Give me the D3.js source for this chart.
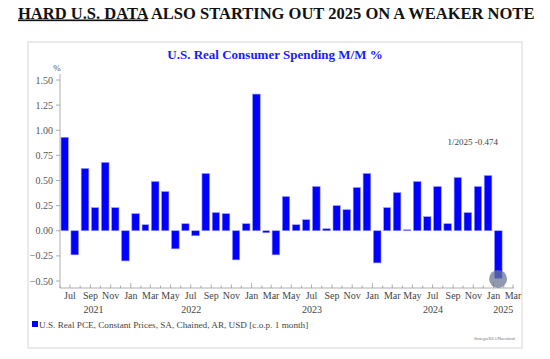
<!DOCTYPE html>
<html><head><meta charset="utf-8">
<script src="https://cdn.jsdelivr.net/npm/d3@7/dist/d3.min.js"></script>
<style>body{margin:0;background:#fff}svg{display:block}</style>
</head><body>
<script>
const months = ["2021-06","2021-07","2021-08","2021-09","2021-10","2021-11","2021-12",
"2022-01","2022-02","2022-03","2022-04","2022-05","2022-06","2022-07","2022-08","2022-09","2022-10","2022-11","2022-12",
"2023-01","2023-02","2023-03","2023-04","2023-05","2023-06","2023-07","2023-08","2023-09","2023-10","2023-11","2023-12",
"2024-01","2024-02","2024-03","2024-04","2024-05","2024-06","2024-07","2024-08","2024-09","2024-10","2024-11","2024-12",
"2025-01"];
const values = [0.93,-0.24,0.62,0.23,0.68,0.23,-0.30,
0.17,0.06,0.49,0.39,-0.18,0.07,-0.05,0.57,0.18,0.17,-0.29,0.07,
1.36,-0.02,-0.24,0.34,0.06,0.11,0.44,0.02,0.25,0.21,0.43,0.57,
-0.32,0.23,0.38,0.01,0.49,0.14,0.44,0.07,0.53,0.18,0.44,0.55,
-0.474];
const yTicks = [-0.5,-0.25,0,0.25,0.5,0.75,1.0,1.25,1.5];
const monthNames = ["Jan","Feb","Mar","Apr","May","Jun","Jul","Aug","Sep","Oct","Nov","Dec"];
const years = [2021,2022,2023,2024,2025];
const headline = ["HARD U.S. DATA", " ALSO STARTING OUT 2025 ON A WEAKER NOTE"];
const chartTitle = "U.S. Real Consumer Spending M/M %";
const legendLabel = "U.S. Real PCE, Constant Prices, SA, Chained, AR, USD [c.o.p. 1 month]";
const annotation = "1/2025 -0.474";
const sourceText = "Strategas/BEA/Macrobond";

const W=550,H=359;
const serif = "'Liberation Serif','Times New Roman',serif";
const svg = d3.select("body").append("svg").attr("width",W).attr("height",H);

const parse = d3.timeParse("%Y-%m");
const data = months.map((m,i)=>({d:parse(m), v:values[i]}));

const x = d3.scaleTime().domain([new Date(2021,5,1), new Date(2025,2,1)]).range([60,513]);
const y = d3.scaleLinear().domain([-0.5,1.5]).range([281,80]);

// headline, fitted to the reference width
const ht = svg.append("text").attr("x",18).attr("y",18.5)
  .attr("font-family",serif).attr("font-weight","bold").attr("font-size",18).attr("fill","#111");
ht.append("tspan").attr("text-decoration","underline").text(headline[0]);
ht.append("tspan").text(headline[1]);
const hw = ht.node().getComputedTextLength();
ht.attr("font-size",18*517/hw);

// frame
svg.append("rect").attr("x",28).attr("y",42).attr("width",494).attr("height",306)
  .attr("fill","#fff").attr("stroke","#e4e4e4").attr("stroke-width",1.5);

svg.append("text").attr("x",275).attr("y",58.5).attr("text-anchor","middle")
  .attr("font-family",serif).attr("font-weight","bold").attr("font-size",13).attr("fill","#1a1aff")
  .text(chartTitle);

svg.append("text").attr("x",57).attr("y",71).attr("text-anchor","middle")
  .attr("font-family",serif).attr("font-size",9).attr("fill","#555").text("%");

// y axis
const axisColor="#999";
svg.append("line").attr("x1",60).attr("x2",60).attr("y1",y(1.56)).attr("y2",288)
  .attr("stroke",axisColor).attr("stroke-width",0.8);
const yg = svg.append("g");
yTicks.forEach(t=>{
  yg.append("line").attr("x1",56).attr("x2",60).attr("y1",y(t)).attr("y2",y(t)).attr("stroke",axisColor).attr("stroke-width",0.8);
  yg.append("text").attr("x",53).attr("y",y(t)+3.5).attr("text-anchor","end")
    .attr("font-family",serif).attr("font-size",10).attr("fill","#555").text(d3.format(".2f")(t));
});

// x axis
svg.append("line").attr("x1",60).attr("x2",514).attr("y1",288).attr("y2",288).attr("stroke",axisColor).attr("stroke-width",0.8);
const allMonths = d3.timeMonth.range(new Date(2021,5,1), new Date(2025,2,2));
allMonths.forEach(dt=>{
  const xx = x(dt), m = dt.getMonth();
  const len = m===0 ? 5 : (m%2===0 ? 3.5 : 2.5);
  svg.append("line").attr("x1",xx).attr("x2",xx).attr("y1",288).attr("y2",288-len).attr("stroke",axisColor).attr("stroke-width",0.8);
  if (m%2===0) {
    svg.append("text").attr("x",xx).attr("y",299).attr("text-anchor","middle")
      .attr("font-family",serif).attr("font-size",10).attr("fill","#444").text(monthNames[m]);
  }
});
years.forEach(yr=>{
  const a = Math.max(x(new Date(yr,0,1)), x(new Date(2021,4,20)));
  const b = Math.min(x(new Date(yr+1,0,1)), x(new Date(2025,2,1)));
  svg.append("text").attr("x",(a+b)/2).attr("y",313).attr("text-anchor","middle")
    .attr("font-family",serif).attr("font-size",10).attr("fill","#444").text(yr);
});

// bars
svg.append("g").selectAll("rect").data(data).join("rect")
  .attr("x",d=>x(d.d)+1)
  .attr("width",d=>x(d3.timeMonth.offset(d.d,1))-x(d.d)-2.6)
  .attr("y",d=>y(Math.max(0,d.v)))
  .attr("height",d=>Math.max(0.6,Math.abs(y(d.v)-y(0))))
  .attr("fill","#0000ff").attr("stroke","#9a9aff").attr("stroke-width",0.6);

// highlight circle on last point
const last = data[data.length-1];
svg.append("circle").attr("cx",x(last.d)+4.6).attr("cy",y(last.v)+0.5).attr("r",9)
  .attr("fill","#6a7894").attr("fill-opacity",0.75);

svg.append("text").attr("x",498).attr("y",145).attr("text-anchor","end")
  .attr("font-family",serif).attr("font-size",9).attr("fill","#444").text(annotation);

// legend
svg.append("rect").attr("x",32).attr("y",321).attr("width",6).attr("height",6).attr("fill","#0000ff");
svg.append("text").attr("x",39).attr("y",327.5)
  .attr("font-family",serif).attr("font-size",9.2).attr("fill","#444").text(legendLabel);

svg.append("text").attr("x",515).attr("y",340).attr("text-anchor","end")
  .attr("font-family",serif).attr("font-size",3.8).attr("fill","#777").text(sourceText);
</script>
</body></html>
